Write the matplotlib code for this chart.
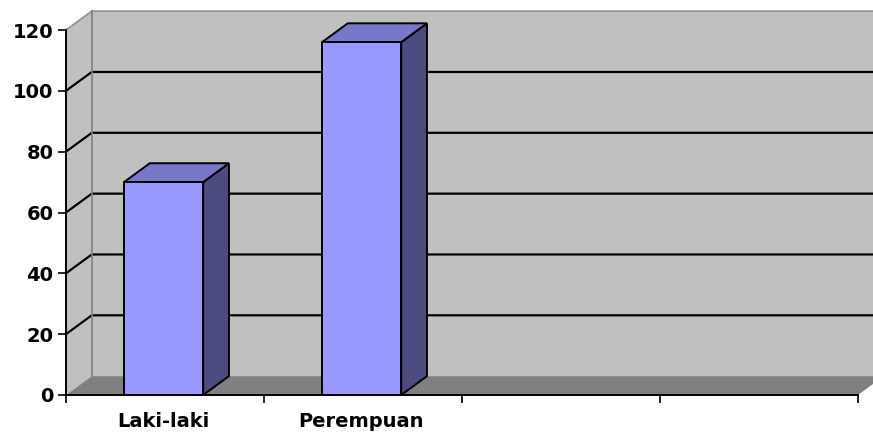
import matplotlib.pyplot as plt
from matplotlib.patches import Polygon

kategori = ['Laki-laki', 'Perempuan']
jumlah = [70, 116]
yticks = [0, 20, 40, 60, 80, 100, 120]
n_slot = 4          # jumlah slot kategori pada sumbu x
ymax = 120

# efek 3D: geser ke belakang (satuan data)
dx = 0.13
dy = 6.2
lebar = 0.4
geser = 0.293

warna_dinding = '#c0c0c0'
warna_lantai = '#808080'
warna_depan = '#9999ff'
warna_atas = '#7777cc'
warna_samping = '#4c4c80'

fig = plt.figure(figsize=(8.73, 4.33), dpi=100)
ax = fig.add_axes([66/873, 38/433, 792/873, 365/433])
ax.set_xlim(0, n_slot)
ax.set_ylim(0, ymax)
ax.patch.set_visible(False)

def poly(pts, fc, ec='none', lw=0, z=1):
    ax.add_patch(Polygon(pts, closed=True, facecolor=fc, edgecolor=ec,
                         linewidth=lw, zorder=z, clip_on=False))

# dinding belakang, dinding samping, lantai
poly([(dx, dy), (n_slot + dx, dy), (n_slot + dx, ymax + dy), (dx, ymax + dy)], warna_dinding)
poly([(0, 0), (dx, dy), (dx, ymax + dy), (0, ymax)], warna_dinding)
poly([(0, 0), (n_slot, 0), (n_slot + dx, dy), (dx, dy)], warna_lantai)

# garis bantu
for v in yticks[1:-1]:
    ax.plot([0, dx, n_slot + dx], [v, v + dy, v + dy], color='black', lw=1.6,
            zorder=2, clip_on=False)
ax.plot([0, dx, n_slot + dx], [ymax, ymax + dy, ymax + dy], color='#909090',
        lw=1.2, zorder=2, clip_on=False)
ax.plot([dx, dx], [dy, ymax + dy], color='#808080', lw=1.2, zorder=2, clip_on=False)

# batang 3D
for i, v in enumerate(jumlah):
    x0 = i + geser
    x1 = x0 + lebar
    poly([(x1, 0), (x1 + dx, dy), (x1 + dx, v + dy), (x1, v)], warna_samping,
         'black', 1.4, 3)
    poly([(x0, v), (x1, v), (x1 + dx, v + dy), (x0 + dx, v + dy)], warna_atas,
         'black', 1.4, 3)
    poly([(x0, 0), (x1, 0), (x1, v), (x0, v)], warna_depan, 'black', 1.4, 4)

# sumbu
for s in ['top', 'right']:
    ax.spines[s].set_visible(False)
ax.spines['left'].set_linewidth(1.4)
ax.spines['bottom'].set_linewidth(1.4)
ax.spines['left'].set_zorder(5)
ax.spines['bottom'].set_zorder(5)

ax.set_yticks(yticks)
ax.set_yticklabels([str(t) for t in yticks], fontsize=14, fontweight='bold')
ax.tick_params(axis='y', length=6, width=1.2, pad=3)

ax.set_xticks(range(n_slot + 1))
ax.set_xticklabels([])
ax.tick_params(axis='x', which='major', length=6, width=1.2)
ax.set_xticks([i + 0.49 for i in range(len(kategori))], minor=True)
ax.set_xticklabels(kategori, minor=True, fontsize=14, fontweight='bold')
ax.tick_params(axis='x', which='minor', length=0, pad=12)

fig.savefig('out.png', dpi=100)
